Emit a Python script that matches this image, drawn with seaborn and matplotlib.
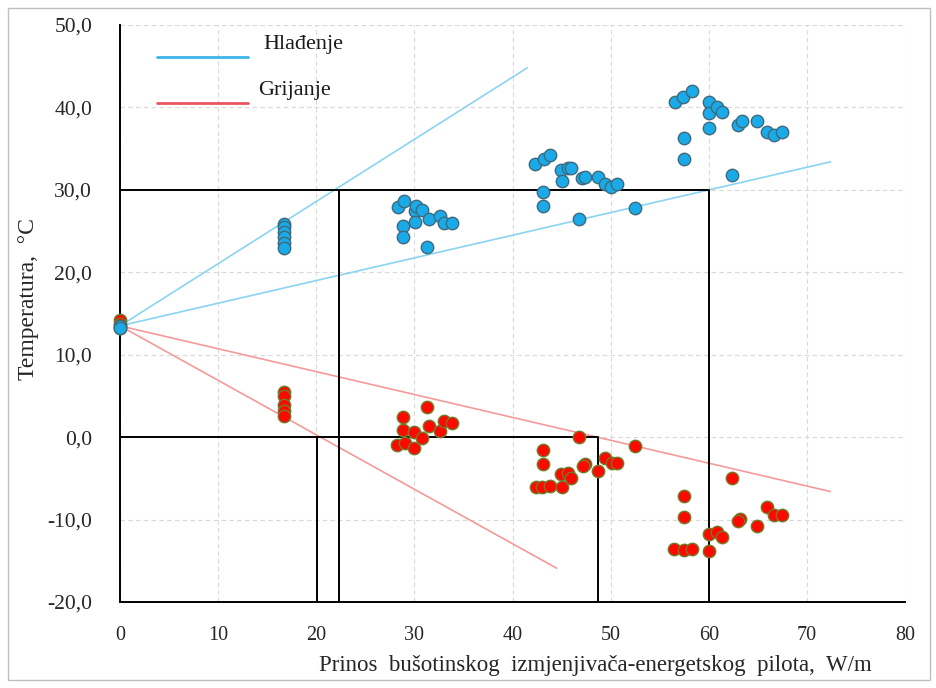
import numpy as np
import pandas as pd
import matplotlib
matplotlib.use("Agg")
import matplotlib.pyplot as plt
import seaborn as sns
from matplotlib.lines import Line2D
from matplotlib.patches import Rectangle

# ---------------- data ----------------
cool_x = [0, 0,
          16.7, 16.7, 16.7, 16.7, 16.7, 16.7,
          28.3, 28.9, 28.8, 28.8, 30.1, 30.1, 30.2, 30.8, 31.3, 31.5, 32.6, 33.0, 33.8,
          42.3, 43.2, 43.8, 43.1, 43.1, 44.9, 45.7, 46.0, 45.0, 47.1, 47.4, 46.8, 48.7,
          49.4, 50.0, 50.6, 52.5,
          56.6, 57.4, 58.3, 57.5, 57.5, 60.0, 60.0, 60.0, 60.8, 61.3, 62.4, 63.0, 63.4,
          64.9, 65.9, 66.6, 67.5]
cool_y = [13.5, 13.2,
          25.9, 25.5, 24.9, 24.3, 23.6, 22.9,
          27.9, 28.6, 25.6, 24.3, 27.4, 26.1, 28.0, 27.5, 23.1, 26.5, 26.8, 26.0, 26.0,
          33.1, 33.8, 34.2, 29.7, 28.1, 32.4, 32.7, 32.6, 31.1, 31.4, 31.6, 26.5, 31.6,
          30.7, 30.4, 30.7, 27.8,
          40.7, 41.3, 42.0, 36.3, 33.8, 40.6, 39.3, 37.5, 40.0, 39.5, 31.8, 37.9, 38.3,
          38.3, 37.0, 36.6, 37.0]

heat_x = [0, 0, 0,
          16.7, 16.7, 16.7, 16.7, 16.7,
          28.2, 28.8, 28.8, 29.0, 30.0, 30.0, 30.8, 31.3, 31.5, 32.6, 33.0, 33.8,
          42.4, 43.0, 43.8, 43.1, 43.1, 44.9, 45.7, 46.0, 45.0, 46.8, 47.4, 47.2, 48.7,
          49.4, 50.1, 50.6, 52.5,
          56.5, 57.5, 58.3, 57.5, 57.5, 60.0, 60.0, 60.8, 61.3, 62.4, 63.2, 63.0, 64.9,
          65.9, 66.6, 67.5]
heat_y = [14.2, 13.7, 13.3,
          5.5, 5.0, 3.9, 3.2, 2.6,
          -0.9, 2.5, 0.9, -0.7, 0.6, -1.3, -0.1, 3.6, 1.4, 0.7, 2.0, 1.7,
          -6.1, -6.1, -5.9, -1.5, -3.2, -4.5, -4.4, -5.0, -6.1, 0.0, -3.3, -3.5, -4.1,
          -2.5, -3.1, -3.1, -1.1,
          -13.6, -13.7, -13.6, -7.2, -9.7, -13.8, -11.8, -11.5, -12.1, -5.0, -9.9, -10.2,
          -10.8, -8.5, -9.5, -9.5]

# trend lines (end points)
cool_line1_x = [0, 41.5]
cool_line1_y = [13.5, 44.8]
cool_line2_x = [0, 72.4]
cool_line2_y = [13.5, 33.4]
heat_line1_x = [0, 72.4]
heat_line1_y = [13.5, -6.6]
heat_line2_x = [0, 44.5]
heat_line2_y = [13.5, -15.9]

# black guide lines
guide_cool_x = [22.3, 22.3, np.nan, 0, 60, 60]
guide_cool_y = [-20, 30, np.nan, 30, 30, -20]
guide_heat_x = [20.1, 20.1, np.nan, 0, 48.7, 48.7]
guide_heat_y = [-20, 0, np.nan, 0, 0, -20]

x_ticks = [0, 10, 20, 30, 40, 50, 60, 70, 80]
y_ticks = [-20, -10, 0, 10, 20, 30, 40, 50]
legend_labels = ["Hlađenje", "Grijanje"]
x_label = "Prinos  bušotinskog  izmjenjivača-energetskog  pilota,  W/m"
y_label = "Temperatura,  °C"

# ---------------- plot ----------------
sns.set_style("white")
plt.rcParams["font.family"] = ["Liberation Serif", "DejaVu Serif"]

fig = plt.figure(figsize=(9.37, 6.88), dpi=100)
ax = fig.add_axes([120 / 937, 1 - 602 / 688, 785 / 937, 577 / 688])

fig.patches.append(Rectangle((8 / 937, 8 / 688), 922 / 937, 672 / 688,
                             transform=fig.transFigure, fill=False,
                             edgecolor="#bfbfbf", linewidth=1.0))

cool_blue = "#8ad4f2"
heat_red = "#f49a9a"
sns.lineplot(x=cool_line1_x, y=cool_line1_y, ax=ax, color=cool_blue, lw=1.2, estimator=None, sort=False)
sns.lineplot(x=cool_line2_x, y=cool_line2_y, ax=ax, color=cool_blue, lw=1.2, estimator=None, sort=False)
sns.lineplot(x=heat_line1_x, y=heat_line1_y, ax=ax, color=heat_red, lw=1.2, estimator=None, sort=False)
sns.lineplot(x=heat_line2_x, y=heat_line2_y, ax=ax, color=heat_red, lw=1.2, estimator=None, sort=False)

ax.plot(guide_cool_x, guide_cool_y, color="black", lw=1.4, zorder=2)
ax.plot(guide_heat_x, guide_heat_y, color="black", lw=1.4, zorder=2)

sns.scatterplot(x=heat_x, y=heat_y, ax=ax, s=80, color="#ff0800",
                edgecolor="#6f7d2a", linewidth=1.0, zorder=4, clip_on=False)
sns.scatterplot(x=cool_x, y=cool_y, ax=ax, s=80, color="#1aaae8",
                edgecolor="#3f6a7c", linewidth=1.0, zorder=5, clip_on=False)

ax.set_xlim(0, 80)
ax.set_ylim(-20, 50)
ax.set_xticks(x_ticks)
ax.set_yticks(y_ticks)
ax.set_xticklabels([str(t) for t in x_ticks], fontsize=14.5)
ax.set_yticklabels([f"{t:.1f}".replace(".", ",") for t in y_ticks], fontsize=15.5)
ax.tick_params(axis="both", length=0, colors="#262626")
ax.tick_params(axis="x", pad=17)
ax.tick_params(axis="y", pad=20)

ax.grid(True, color="#d9d9d9", linestyle=(0, (4, 3)), linewidth=0.8)
ax.set_axisbelow(True)
for side in ["top", "right"]:
    ax.spines[side].set_visible(False)
for side in ["left", "bottom"]:
    ax.spines[side].set_color("black")
    ax.spines[side].set_linewidth(1.4)

ax.set_xlabel("")
ax.set_ylabel("")
ax.text(0.605, -0.11, x_label, transform=ax.transAxes, ha="center", va="center",
        fontsize=16.5, color="#262626")
ax.text(-0.117, 0.525, y_label, transform=ax.transAxes, ha="center", va="center",
        rotation=90, fontsize=17, color="#262626")

# manual legend
leg_lines = [("#3db6ea", 57, legend_labels[0], 263, 45), ("#e8555e", 103, legend_labels[1], 258, 90)]
for col, ypx, lab, tx, ty in leg_lines:
    fig.add_artist(Line2D([157 / 937, 248 / 937], [1 - ypx / 688, 1 - ypx / 688],
                          transform=fig.transFigure, color=col, lw=2))
    fig.text(tx / 937, 1 - ty / 688, lab, ha="left", va="center", fontsize=16, color="#1a1a1a")

fig.savefig("out.png", dpi=100)
